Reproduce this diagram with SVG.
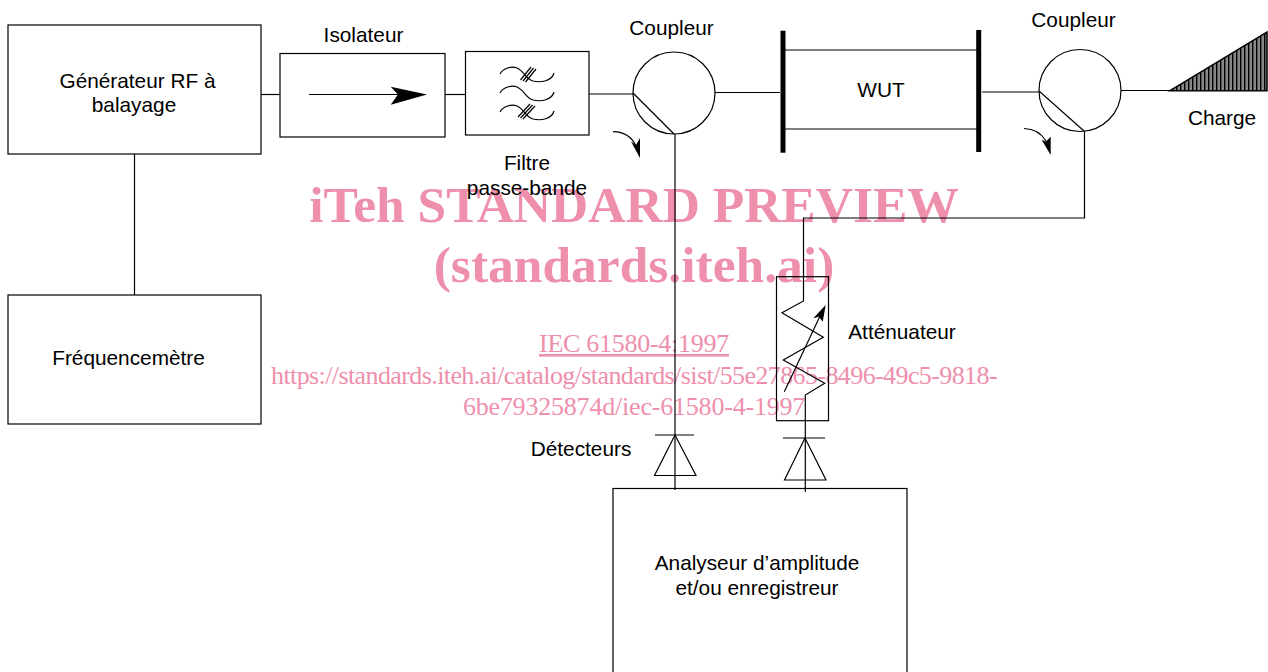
<svg xmlns="http://www.w3.org/2000/svg" width="1268" height="672" viewBox="0 0 1268 672">
<style>
.b{fill:none;stroke:#000;stroke-width:1.2}
.bar{fill:none;stroke:#000;stroke-width:5}
.a{fill:#000;stroke:none}
.t{font-family:"Liberation Sans",Arial,sans-serif;font-size:20.8px;fill:#000;text-anchor:middle}
.w{font-family:"Liberation Serif","Times New Roman",serif;fill:#ee8fac;text-anchor:middle}
.wb{font-size:51.500px;font-weight:bold}
.ws{font-size:26px}
</style>
<defs>
<pattern id="hatch" width="4" height="4" patternUnits="userSpaceOnUse">
<rect width="4" height="4" fill="#888"/>
<rect x="0" width="1.4" height="4" fill="#000"/>
</pattern>
<g id="curve"><path class="b" d="M500,74 C503,68 512,66 517,68 C524,71 526,79 533,81 C541,83 552,81 554,73"/></g>
</defs>
<g id="watermark">
<text class="w wb" x="634" y="222">iTeh STANDARD PREVIEW</text>
<text class="w wb" x="634" y="282">(standards.iteh.ai)</text>
<text class="w ws" x="634" y="352" letter-spacing="-0.28" text-decoration="underline">IEC 61580-4:1997</text>
<text class="w ws" x="634" y="384" letter-spacing="-0.6">https://standards.iteh.ai/catalog/standards/sist/55e27865-8496-49c5-9818-</text>
<text class="w ws" x="634" y="415" letter-spacing="-0.2">6be79325874d/iec-61580-4-1997</text>
</g>
<g id="connectors">
<path class="b" d="M261,94.500H280"/>
<path class="b" d="M445,94.500H465.500"/>
<path class="b" d="M589,94H633"/>
<path class="b" d="M715,92.500H780"/>
<path class="b" d="M982,92H1039"/>
<path class="b" d="M1121,90.500H1172"/>
<path class="b" d="M134.500,154V295"/>
<path class="b" d="M675,134V490"/>
<path class="b" d="M1084.500,131V218H803.500V301L782,312.700L823.300,337.300L783.300,360L824.700,383.300L805.300,395V492"/>
</g>
<g id="generateur"><rect class="b" x="8" y="25" width="253" height="129"/>
<text class="t" x="137.500" y="88">Générateur RF à</text><text class="t" x="134" y="112">balayage</text></g>
<g id="frequencemetre"><rect class="b" x="8" y="295" width="253" height="129"/>
<text class="t" x="128.500" y="365">Fréquencemètre</text></g>
<g id="isolateur"><rect class="b" x="280" y="53.500" width="165" height="83.500"/>
<path class="b" d="M309,94.500H400"/>
<path class="a" d="M427,94.500L390.700,86.700L398,94.500L390.700,104.700Z"/>
<text class="t" x="363.500" y="42">Isolateur</text></g>
<g id="filtre"><rect class="b" x="465.500" y="51.500" width="123.500" height="83.500"/>
<use href="#curve"/><use href="#curve" y="19"/><use href="#curve" y="38"/>
<path class="b" d="M520.500,80L531,67M523,81L533.500,68M525.500,82L536,69"/>
<path class="b" d="M518,117L530,104M520.500,118L532.500,105M523,119L535,106"/>
<text class="t" x="527" y="170">Filtre</text><text class="t" x="527" y="195">passe-bande</text></g>
<g id="coupleur1"><circle class="b" cx="674" cy="93" r="41"/>
<path class="b" d="M633,93L674,134"/>
<path class="b" d="M613,131.700C624,132 632,137 636,146"/>
<path class="a" d="M640,158L631,141.500L636,145L640,138Z"/>
<text class="t" x="671.500" y="35">Coupleur</text></g>
<g id="wut"><path class="bar" d="M783,30.700V152.700"/><path class="bar" d="M978.700,30V152"/>
<path class="b" d="M785,50H977"/><path class="b" d="M785,129H977"/>
<text class="t" x="881" y="97">WUT</text></g>
<g id="coupleur2"><circle class="b" cx="1080" cy="90.500" r="41"/>
<path class="b" d="M1039,91L1084,131"/>
<path class="b" d="M1024,128.500C1034,129 1042,134 1046,141"/>
<path class="a" d="M1050.700,155L1041.700,140L1046,141.500L1050.700,136.700Z"/>
<text class="t" x="1073.500" y="27">Coupleur</text></g>
<g id="charge"><path d="M1170,90.700L1267,32V90.700Z" fill="url(#hatch)" stroke="#000" stroke-width="1.500"/>
<text class="t" x="1222" y="125">Charge</text></g>
<g id="attenuateur"><rect class="b" x="776.500" y="276.700" width="52" height="144"/>
<path class="b" d="M784.300,391.700L821,314"/>
<path class="a" d="M825.700,305L822.700,321.700L819,316.700L813.300,318.300Z"/>
<text class="t" x="902" y="339">Atténuateur</text></g>
<g id="detecteur1"><path class="b" d="M655,435H694"/><path class="b" d="M675,435L654.500,475.500H696Z"/>
<text class="t" x="581" y="456">Détecteurs</text></g>
<g id="detecteur2"><path class="b" d="M783,438H825"/><path class="b" d="M805,438L784.500,480H826Z"/></g>
<g id="analyseur"><rect class="b" x="613" y="488.500" width="294" height="200"/>
<text class="t" x="757" y="570">Analyseur d’amplitude</text><text class="t" x="757" y="595">et/ou enregistreur</text></g>
</svg>
